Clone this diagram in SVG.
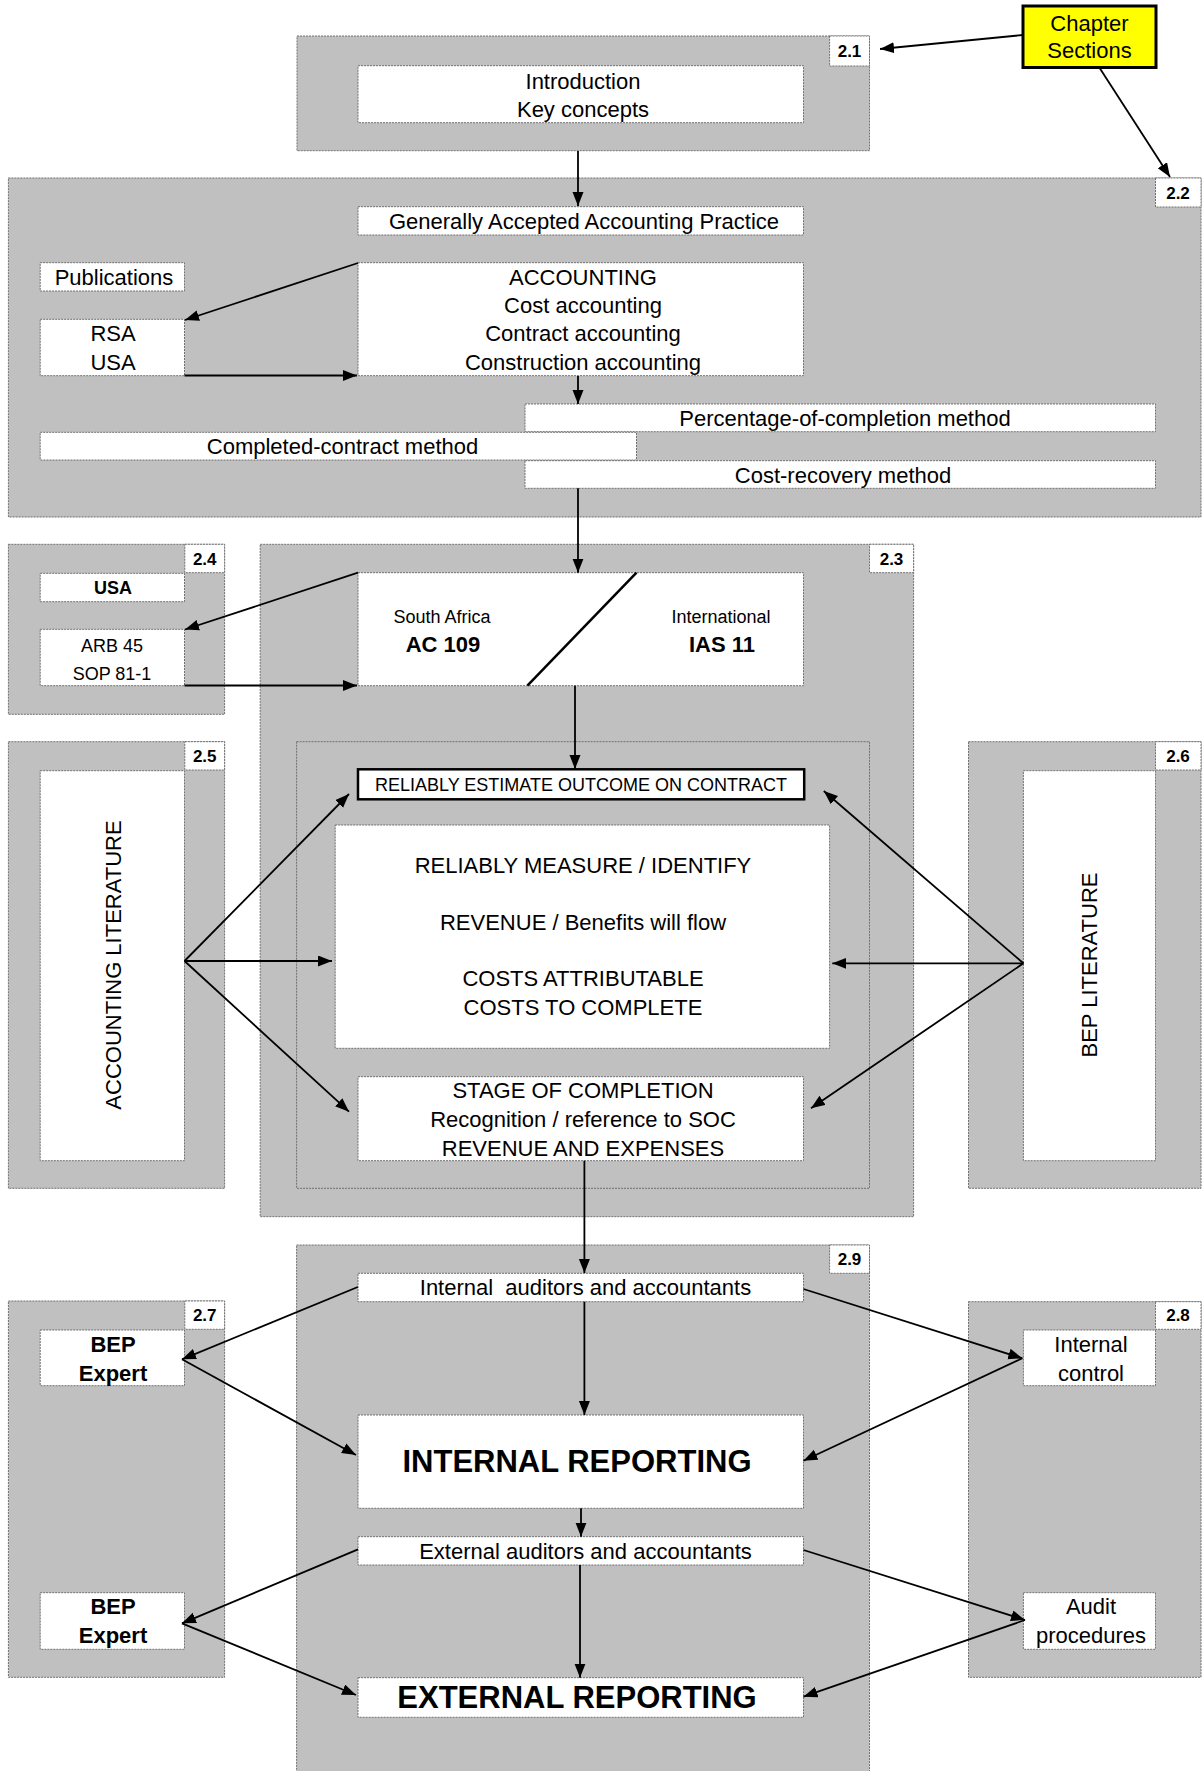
<svg xmlns="http://www.w3.org/2000/svg" width="1202" height="1771" viewBox="0 0 1202 1771">
<defs>
<style>
.g{fill:#c0c0c0;stroke:#707070;stroke-width:1;stroke-dasharray:2 1}
.w{fill:#fff;stroke:#707070;stroke-width:1;stroke-dasharray:2 1}
.k{fill:#fff;stroke:#000;stroke-width:2.5}
.y{fill:#ffff00;stroke:#000;stroke-width:3}
text{font-family:"Liberation Sans",Arial,sans-serif;font-size:22px;fill:#000;text-anchor:middle}
.s{font-size:18px}
.b{font-weight:bold}
.n{font-size:17px;font-weight:bold}
.big{font-size:31px;font-weight:bold}
.pre{white-space:pre}
#connectors line{stroke:#000;stroke-width:1.8;fill:none}
</style>
<marker id="ah" markerUnits="userSpaceOnUse" markerWidth="16" markerHeight="12" refX="14" refY="5.5" orient="auto">
<path d="M0,0 L14,5.5 L0,11 z" fill="#000"/>
</marker>
</defs>
<rect width="1202" height="1771" fill="#fff"/>

<!-- Section 2.1 -->
<g id="sec21">
<rect class="g" x="297" y="36" width="572.5" height="114.7"/>
<rect class="w" x="829.6" y="36" width="39.9" height="30"/>
<text class="n" x="849.5" y="57">2.1</text>
</g>
<g id="intro">
<rect class="w" x="358" y="65.7" width="445.5" height="57"/>
<text x="583" y="88.5">Introduction</text>
<text x="583" y="116.5">Key concepts</text>
</g>
<g id="chapter">
<rect class="y" x="1023" y="6" width="133" height="61.5"/>
<text x="1089.5" y="30.5">Chapter</text>
<text x="1089.5" y="57.5">Sections</text>
</g>

<!-- Section 2.2 -->
<g id="sec22">
<rect class="g" x="8.4" y="178" width="1192.6" height="339"/>
<rect class="w" x="1155.5" y="178" width="45.5" height="29"/>
<text class="n" x="1178" y="199">2.2</text>
</g>
<g id="gaap">
<rect class="w" x="358" y="206.7" width="445.5" height="28.3"/>
<text x="584" y="228.5">Generally Accepted Accounting Practice</text>
</g>
<g id="publications">
<rect class="w" x="40.2" y="262.7" width="144.3" height="28.3"/>
<text x="114" y="284.5">Publications</text>
</g>
<g id="accounting">
<rect class="w" x="358" y="262.7" width="445.5" height="113"/>
<text x="583" y="285">ACCOUNTING</text>
<text x="583" y="313">Cost accounting</text>
<text x="583" y="341">Contract accounting</text>
<text x="583" y="369.5">Construction accounting</text>
</g>
<g id="rsausa">
<rect class="w" x="40.2" y="319.3" width="144.3" height="56.4"/>
<text x="113" y="341">RSA</text>
<text x="113" y="369.5">USA</text>
</g>
<g id="percentage">
<rect class="w" x="525" y="404" width="630.5" height="27.7"/>
<text x="845" y="425.8">Percentage-of-completion method</text>
</g>
<g id="completed">
<rect class="w" x="40.2" y="432.3" width="596.3" height="27.7"/>
<text x="342.5" y="454">Completed-contract method</text>
</g>
<g id="costrecovery">
<rect class="w" x="525" y="460.7" width="630.5" height="27.6"/>
<text x="843" y="482.5">Cost-recovery method</text>
</g>

<!-- Section 2.4 -->
<g id="sec24">
<rect class="g" x="8.4" y="544.3" width="216.2" height="170"/>
<rect class="w" x="184.8" y="544.3" width="39.8" height="28.4"/>
<text class="n" x="204.7" y="564.5">2.4</text>
</g>
<g id="usa">
<rect class="w" x="40.2" y="573.3" width="144.3" height="28.4"/>
<text class="s b" x="113" y="594">USA</text>
</g>
<g id="arb">
<rect class="w" x="40.2" y="629.3" width="144.3" height="56.4"/>
<text class="s" x="112" y="651.5">ARB 45</text>
<text class="s" x="112" y="680">SOP 81-1</text>
</g>

<!-- Section 2.3 -->
<g id="sec23">
<rect class="g" x="260.2" y="544.3" width="653.4" height="672.4"/>
<rect class="w" x="869.5" y="544.3" width="44.1" height="28.4"/>
<text class="n" x="891.5" y="564.5">2.3</text>
</g>
<g id="standards">
<rect class="w" x="358" y="572.7" width="445.5" height="113"/>
<text class="s" x="442" y="623">South Africa</text>
<text class="b" x="443" y="652">AC 109</text>
<text class="s" x="721" y="623">International</text>
<text class="b" x="722" y="652">IAS 11</text>
<line x1="527.4" y1="685.7" x2="636.5" y2="572.7" stroke="#000" stroke-width="2.5"/>
</g>
<g id="inner23">
<rect class="g" x="296.6" y="741.7" width="572.9" height="446.6"/>
</g>
<g id="estimate">
<rect class="k" x="358" y="769.3" width="446.2" height="30"/>
<text class="s" x="581" y="791">RELIABLY ESTIMATE OUTCOME ON CONTRACT</text>
</g>
<g id="measure">
<rect class="w" x="335.2" y="825" width="494.4" height="223.3"/>
<text x="583" y="873.3">RELIABLY MEASURE / IDENTIFY</text>
<text x="583" y="929.8">REVENUE / Benefits will flow</text>
<text x="583" y="986.3">COSTS ATTRIBUTABLE</text>
<text x="583" y="1014.6">COSTS TO COMPLETE</text>
</g>
<g id="stage">
<rect class="w" x="358" y="1076.7" width="445.5" height="84"/>
<text x="583" y="1098">STAGE OF COMPLETION</text>
<text x="583" y="1127">Recognition / reference to SOC</text>
<text x="583" y="1155.5">REVENUE AND EXPENSES</text>
</g>

<!-- Section 2.5 -->
<g id="sec25">
<rect class="g" x="8.4" y="741.7" width="216.2" height="446.6"/>
<rect class="w" x="184.8" y="741.7" width="39.8" height="28.3"/>
<text class="n" x="204.7" y="762">2.5</text>
</g>
<g id="acclit">
<rect class="w" x="40.2" y="770.7" width="144.3" height="390"/>
<text transform="translate(120.5,965) rotate(-90)">ACCOUNTING LITERATURE</text>
</g>

<!-- Section 2.6 -->
<g id="sec26">
<rect class="g" x="968.5" y="741.7" width="232.5" height="446.6"/>
<rect class="w" x="1155.5" y="741.7" width="45.5" height="28.3"/>
<text class="n" x="1178" y="762">2.6</text>
</g>
<g id="beplit">
<rect class="w" x="1023.4" y="770.7" width="132.1" height="390"/>
<text transform="translate(1096.7,965) rotate(-90)">BEP LITERATURE</text>
</g>

<!-- Section 2.9 -->
<g id="sec29">
<rect class="g" x="296.6" y="1245" width="572.9" height="540"/>
<rect class="w" x="829.6" y="1245" width="39.9" height="28.3"/>
<text class="n" x="849.5" y="1265">2.9</text>
</g>
<g id="internalaud">
<rect class="w" x="358" y="1273.3" width="445.5" height="28.4"/>
<text class="pre" x="585.5" y="1295">Internal  auditors and accountants</text>
</g>
<g id="internalrep">
<rect class="w" x="358" y="1415" width="445.5" height="93.3"/>
<text class="big" x="577" y="1472">INTERNAL REPORTING</text>
</g>
<g id="externalaud">
<rect class="w" x="358" y="1536.7" width="445.5" height="28.3"/>
<text x="585.5" y="1559">External auditors and accountants</text>
</g>
<g id="externalrep">
<rect class="w" x="358" y="1677.7" width="445.5" height="39.6"/>
<text class="big" x="577" y="1708">EXTERNAL REPORTING</text>
</g>

<!-- Section 2.7 -->
<g id="sec27">
<rect class="g" x="8.4" y="1301" width="216.2" height="376.3"/>
<rect class="w" x="184.8" y="1301" width="39.8" height="28.3"/>
<text class="n" x="204.7" y="1321">2.7</text>
</g>
<g id="bepexpert1">
<rect class="w" x="40.2" y="1330" width="144.3" height="55.7"/>
<text class="b" x="113" y="1352.3">BEP</text>
<text class="b" x="113" y="1380.6">Expert</text>
</g>
<g id="bepexpert2">
<rect class="w" x="40.2" y="1592.7" width="144.3" height="56.6"/>
<text class="b" x="113" y="1614.4">BEP</text>
<text class="b" x="113" y="1642.7">Expert</text>
</g>

<!-- Section 2.8 -->
<g id="sec28">
<rect class="g" x="968.5" y="1301.7" width="232.5" height="375.6"/>
<rect class="w" x="1155.5" y="1301.7" width="45.5" height="27.6"/>
<text class="n" x="1178" y="1321">2.8</text>
</g>
<g id="internalcontrol">
<rect class="w" x="1023.4" y="1330" width="132.1" height="55.7"/>
<text x="1091" y="1352.3">Internal</text>
<text x="1091" y="1380.6">control</text>
</g>
<g id="auditproc">
<rect class="w" x="1023.4" y="1592.7" width="132.1" height="56.6"/>
<text x="1091" y="1614.4">Audit</text>
<text x="1091" y="1642.7">procedures</text>
</g>

<g id="connectors" marker-end="url(#ah)">
<line x1="1023" y1="35" x2="880" y2="49" marker-end="url(#ah)"/>
<line x1="1099" y1="67" x2="1170" y2="177" marker-end="url(#ah)"/>
<line x1="578" y1="151" x2="578" y2="206" marker-end="url(#ah)"/>
<line x1="358" y1="263" x2="185" y2="320" marker-end="url(#ah)"/>
<line x1="184.5" y1="375.5" x2="357" y2="375.5" marker-end="url(#ah)"/>
<line x1="578" y1="376" x2="578" y2="404" marker-end="url(#ah)"/>
<line x1="578" y1="488.3" x2="578" y2="572.7" marker-end="url(#ah)"/>
<line x1="358" y1="572.7" x2="185" y2="629.5" marker-end="url(#ah)"/>
<line x1="184.5" y1="685.5" x2="357" y2="685.5" marker-end="url(#ah)"/>
<line x1="575" y1="685.7" x2="575" y2="769" marker-end="url(#ah)"/>
<line x1="184.5" y1="961" x2="349" y2="794" marker-end="url(#ah)"/>
<line x1="184.5" y1="961" x2="332" y2="961" marker-end="url(#ah)"/>
<line x1="184.5" y1="961" x2="349" y2="1111.7" marker-end="url(#ah)"/>
<line x1="1023.4" y1="963.3" x2="823.8" y2="791" marker-end="url(#ah)"/>
<line x1="1023.4" y1="963.3" x2="832.3" y2="963.3" marker-end="url(#ah)"/>
<line x1="1023.4" y1="963.3" x2="811" y2="1108.3" marker-end="url(#ah)"/>
<line x1="584.4" y1="1160.7" x2="584.4" y2="1273" marker-end="url(#ah)"/>
<line x1="357.8" y1="1287" x2="182" y2="1359.3" marker-end="url(#ah)"/>
<line x1="182" y1="1359.3" x2="356" y2="1455" marker-end="url(#ah)"/>
<line x1="803.5" y1="1289" x2="1022.3" y2="1358.3" marker-end="url(#ah)"/>
<line x1="1022.3" y1="1358.3" x2="803.5" y2="1460.7" marker-end="url(#ah)"/>
<line x1="584.4" y1="1301.7" x2="584.4" y2="1415" marker-end="url(#ah)"/>
<line x1="581" y1="1508.3" x2="581" y2="1536.7" marker-end="url(#ah)"/>
<line x1="358" y1="1549.3" x2="182" y2="1623.3" marker-end="url(#ah)"/>
<line x1="182" y1="1623.3" x2="356" y2="1695" marker-end="url(#ah)"/>
<line x1="803.5" y1="1550" x2="1025" y2="1620" marker-end="url(#ah)"/>
<line x1="1025" y1="1620" x2="803.5" y2="1696.7" marker-end="url(#ah)"/>
<line x1="580" y1="1565" x2="580" y2="1677.7" marker-end="url(#ah)"/>
</g>
</svg>
